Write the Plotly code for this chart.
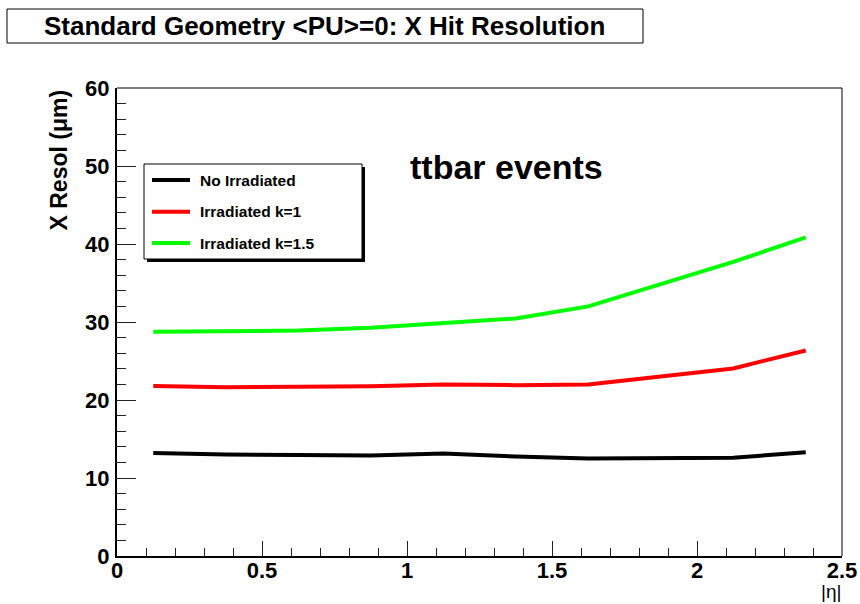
import plotly.graph_objects as go

# |eta| bin centres and X hit resolution (um) for each sample
eta = [0.125, 0.375, 0.625, 0.875, 1.125, 1.375, 1.625, 1.875, 2.125, 2.375]
no_irradiated = [13.2, 13.0, 12.95, 12.9, 13.15, 12.75, 12.5, 12.6, 12.6, 13.3]
irradiated_k1 = [21.8, 21.65, 21.7, 21.75, 22.0, 21.9, 22.0, 23.0, 24.05, 26.35]
irradiated_k15 = [28.75, 28.8, 28.9, 29.25, 29.8, 30.45, 32.0, 34.9, 37.7, 40.85]

series_names = ["No Irradiated", "Irradiated k=1", "Irradiated k=1.5"]
series_colors = ["#000000", "#ff0000", "#00ff00"]
series_values = [no_irradiated, irradiated_k1, irradiated_k15]

W, H = 860, 604
L, R, T, B = 117, 842, 88, 556  # frame edges in pixels


def px(x):
    return (x - L) / (R - L)


def py(y):
    return (B - y) / (B - T)


FONT = "Liberation Sans"

fig = go.Figure()
for name, color, vals in zip(series_names, series_colors, series_values):
    fig.add_trace(go.Scatter(x=eta, y=vals, mode="lines", name=name,
                             line=dict(color=color, width=4), showlegend=False))

tickfont = dict(family=FONT, size=22, color="black", weight="bold")
fig.update_xaxes(range=[0, 2.5], dtick=0.5, tick0=0, ticks="inside", ticklen=15,
                 tickwidth=1, tickcolor="#222", showgrid=False, zeroline=False,
                 showline=True, linecolor="black", linewidth=2, automargin=False,
                 tickfont=tickfont, ticklabelstandoff=-6,
                 minor=dict(ticks="inside", ticklen=8, dtick=0.1, tickcolor="#222",
                            tickwidth=1, showgrid=False))
fig.update_yaxes(range=[0, 60], dtick=10, tick0=0, ticks="inside", ticklen=19,
                 tickwidth=1, tickcolor="#222", showgrid=False, zeroline=False,
                 showline=True, linecolor="black", linewidth=2, automargin=False,
                 tickfont=tickfont, ticklabelstandoff=1,
                 minor=dict(ticks="inside", ticklen=9, dtick=2, tickcolor="#222",
                            tickwidth=1, showgrid=False))

shapes = []
annotations = []

# frame top / right
shapes.append(dict(type="line", xref="paper", yref="paper", x0=0, x1=1, y0=1, y1=1,
                   line=dict(color="black", width=1)))
shapes.append(dict(type="line", xref="paper", yref="paper", x0=1, x1=1, y0=0, y1=1,
                   line=dict(color="black", width=1)))

# title box
shapes.append(dict(type="rect", xref="paper", yref="paper",
                   x0=px(7), x1=px(643), y0=py(43), y1=py(9),
                   line=dict(color="black", width=1), fillcolor="white"))
annotations.append(dict(xref="paper", yref="paper", x=px(324), y=py(26),
                        text="Standard Geometry &lt;PU&gt;=0: X Hit Resolution",
                        showarrow=False, xanchor="center", yanchor="middle",
                        font=dict(family=FONT, size=26, color="black", weight="bold")))

# legend box with shadow
shapes.append(dict(type="rect", xref="paper", yref="paper",
                   x0=px(147), x1=px(365), y0=py(262), y1=py(167),
                   line=dict(width=0), fillcolor="black"))
shapes.append(dict(type="rect", xref="paper", yref="paper",
                   x0=px(144), x1=px(362), y0=py(259), y1=py(164),
                   line=dict(color="black", width=1), fillcolor="white"))
rows = [180, 211.7, 243]
for name, color, ry in zip(series_names, series_colors, rows):
    shapes.append(dict(type="line", xref="paper", yref="paper",
                       x0=px(152), x1=px(190), y0=py(ry), y1=py(ry),
                       line=dict(color=color, width=4)))
    annotations.append(dict(xref="paper", yref="paper", x=px(198), y=py(ry),
                            text=name, showarrow=False, xanchor="left", yanchor="middle",
                            font=dict(family=FONT, size=15.5, color="black", weight="bold")))

# sample label
annotations.append(dict(xref="paper", yref="paper", x=px(506), y=py(167),
                        text="ttbar events", showarrow=False, xanchor="center",
                        yanchor="middle",
                        font=dict(family=FONT, size=34, color="black", weight="bold")))

# axis titles
annotations.append(dict(xref="paper", yref="paper", x=px(58), y=py(88),
                        text="X Resol (\u03bcm)", textangle=-90, showarrow=False,
                        xanchor="center", yanchor="top",
                        font=dict(family=FONT, size=23, color="black", weight="bold")))
annotations.append(dict(xref="paper", yref="paper", x=px(843), y=py(604),
                        text="|\u03b7|", showarrow=False, xanchor="right",
                        yanchor="bottom",
                        font=dict(family=FONT, size=19, color="black")))

fig.update_layout(width=W, height=H, margin=dict(l=L, r=W - R, t=T, b=H - B),
                  plot_bgcolor="white", paper_bgcolor="white",
                  shapes=shapes, annotations=annotations)

fig.write_html("out.html")
